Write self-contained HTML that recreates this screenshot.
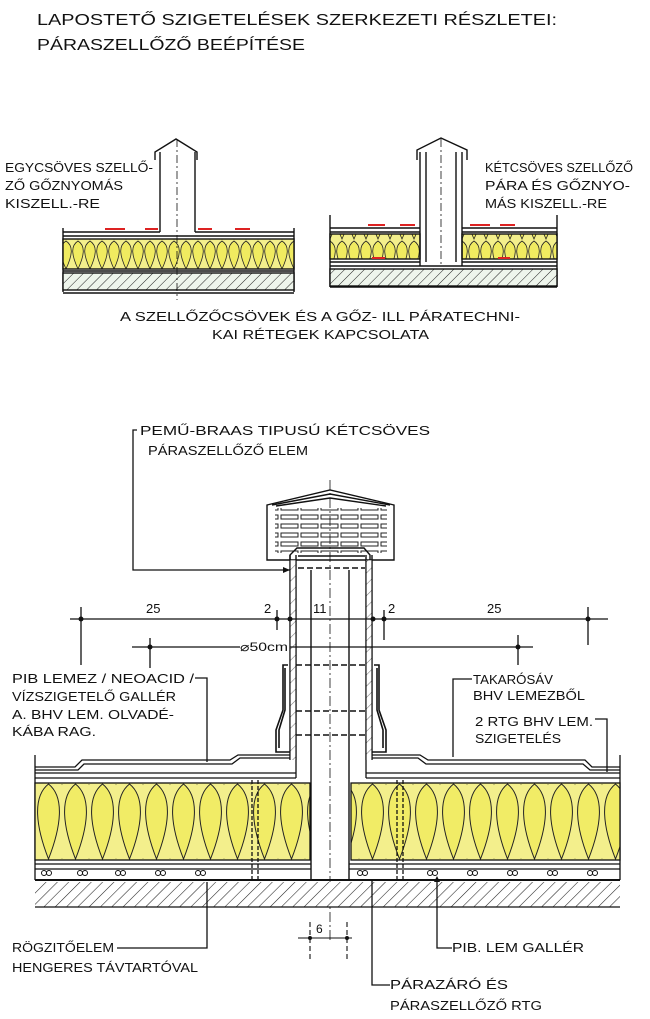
<!DOCTYPE html>
<html><head><meta charset="utf-8">
<style>
html,body{margin:0;padding:0;background:#fff;}
svg{display:block;}
text{font-family:"Liberation Sans","DejaVu Sans",sans-serif;fill:#111;}
</style></head>
<body>
<svg width="650" height="1019" viewBox="0 0 650 1019" xmlns="http://www.w3.org/2000/svg" font-size="13">
<defs>
<pattern id="ins" x="35" y="783" width="27" height="77" patternUnits="userSpaceOnUse">
<rect width="27" height="77" fill="#f3ef8c"/>
<path d="M13.5 1 C30 14 26 44 13.5 76 C1 44 -3 14 13.5 1 Z" fill="#f1ec66" stroke="#222" stroke-width="1"/>
<path d="M0 76 C-10 60 -10 30 0 1 M27 76 C37 60 37 30 27 1" fill="none" stroke="#222" stroke-width="0.8"/>
</pattern>
<pattern id="ins2" x="0" y="0" width="12" height="30" patternUnits="userSpaceOnUse">
<rect width="12" height="30" fill="#f3ef8c"/>
<path d="M6 1 C14 6 12 16 6 29 C0 16 -2 6 6 1 Z" fill="#f0eb60" stroke="#222" stroke-width="0.8"/>
</pattern>
<pattern id="hat" width="8" height="8" patternUnits="userSpaceOnUse" patternTransform="rotate(45)">
<rect width="8" height="8" fill="#fff"/>
<line x1="0" y1="0" x2="0" y2="8" stroke="#222" stroke-width="1.1"/>
</pattern>
<pattern id="hats" width="7" height="7" patternUnits="userSpaceOnUse" patternTransform="rotate(45)">
<rect width="7" height="7" fill="#eef5ec"/>
<line x1="0" y1="0" x2="0" y2="7" stroke="#222" stroke-width="1"/>
</pattern>
<pattern id="grill" width="20" height="9" patternUnits="userSpaceOnUse">
<rect x="1" y="2" width="17" height="4" fill="none" stroke="#222" stroke-width="1"/>
</pattern>
</defs>

<text x="37" y="25" font-size="16" textLength="520" lengthAdjust="spacingAndGlyphs">LAPOSTETŐ  SZIGETELÉSEK  SZERKEZETI  RÉSZLETEI:</text>
<text x="37" y="50" font-size="16" textLength="268" lengthAdjust="spacingAndGlyphs">PÁRASZELLŐZŐ  BEÉPÍTÉSE</text>

<g stroke="#111" fill="none" stroke-width="1.4">
<line x1="63" y1="228" x2="63" y2="292"/>
<line x1="294" y1="228" x2="294" y2="292"/>
<line x1="63" y1="232" x2="160" y2="232"/>
<line x1="195" y1="232" x2="294" y2="232"/>
<line x1="63" y1="236" x2="294" y2="236"/>
<rect x="63" y="239" width="231" height="30" fill="url(#ins2)"/>
<line x1="63" y1="271" x2="294" y2="271"/>
<rect x="63" y="273" width="231" height="17" fill="url(#hats)"/>
<line x1="63" y1="293" x2="294" y2="293"/>
<line x1="160" y1="152" x2="160" y2="232"/>
<line x1="195" y1="152" x2="195" y2="232"/>
<path d="M155 160 L155 152 L176 139 L197 152 L197 160"/>
<line x1="177" y1="139" x2="177" y2="300" stroke-dasharray="8,3,2,3" stroke-width="0.8"/>
</g>
<g stroke="#d22" stroke-width="2"><line x1="105" y1="229" x2="125" y2="229"/><line x1="145" y1="229" x2="158" y2="229"/><line x1="198" y1="229" x2="212" y2="229"/><line x1="235" y1="229" x2="250" y2="229"/></g>
<text x="5" y="172" font-size="12.5" textLength="148" lengthAdjust="spacingAndGlyphs">EGYCSÖVES SZELLŐ-</text>
<text x="5" y="190" font-size="12.5" textLength="118" lengthAdjust="spacingAndGlyphs">ZŐ GŐZNYOMÁS</text>
<text x="5" y="208" font-size="12.5" textLength="95" lengthAdjust="spacingAndGlyphs">KISZELL.-RE</text>

<g stroke="#111" fill="none" stroke-width="1.4">
<line x1="330" y1="215" x2="330" y2="287"/>
<line x1="557" y1="215" x2="557" y2="287"/>
<line x1="330" y1="228" x2="420" y2="228"/>
<line x1="462" y1="228" x2="557" y2="228"/>
<line x1="330" y1="232" x2="420" y2="232"/>
<line x1="462" y1="232" x2="557" y2="232"/>
<rect x="330" y="234" width="90" height="25" fill="url(#ins2)"/>
<rect x="462" y="234" width="95" height="25" fill="url(#ins2)"/>
<line x1="330" y1="262" x2="420" y2="262"/>
<line x1="462" y1="262" x2="557" y2="262"/>
<line x1="330" y1="266" x2="557" y2="266"/>
<rect x="330" y="269" width="227" height="17" fill="url(#hats)"/>
<line x1="330" y1="287" x2="557" y2="287"/>
<line x1="420" y1="152" x2="420" y2="266"/>
<line x1="426" y1="152" x2="426" y2="262"/>
<line x1="456" y1="152" x2="456" y2="262"/>
<line x1="462" y1="152" x2="462" y2="266"/>
<path d="M417 160 L417 150 L441 138 L467 150 L467 160"/>
<line x1="441" y1="139" x2="441" y2="266" stroke-dasharray="8,3,2,3" stroke-width="0.8"/>
</g>
<g stroke="#d22" stroke-width="2"><line x1="368" y1="225" x2="385" y2="225"/><line x1="400" y1="225" x2="415" y2="225"/><line x1="470" y1="225" x2="490" y2="225"/><line x1="500" y1="225" x2="515" y2="225"/><line x1="372" y1="258" x2="385" y2="258"/><line x1="498" y1="258" x2="510" y2="258"/></g>
<text x="485" y="172" font-size="12.5" textLength="148" lengthAdjust="spacingAndGlyphs">KÉTCSÖVES SZELLŐZŐ</text>
<text x="485" y="190" font-size="12.5" textLength="145" lengthAdjust="spacingAndGlyphs">PÁRA ÉS GŐZNYO-</text>
<text x="485" y="208" font-size="12.5" textLength="122" lengthAdjust="spacingAndGlyphs">MÁS KISZELL.-RE</text>

<text x="120" y="321" font-size="13" textLength="400" lengthAdjust="spacingAndGlyphs">A  SZELLŐZŐCSÖVEK  ÉS  A  GŐZ-  ILL  PÁRATECHNI-</text>
<text x="212" y="339" font-size="13" textLength="217" lengthAdjust="spacingAndGlyphs">KAI  RÉTEGEK  KAPCSOLATA</text>

<text x="140" y="435" font-size="13" textLength="290" lengthAdjust="spacingAndGlyphs">PEMŰ-BRAAS  TIPUSÚ  KÉTCSÖVES</text>
<text x="148" y="455" font-size="13" textLength="160" lengthAdjust="spacingAndGlyphs">PÁRASZELLŐZŐ  ELEM</text>
<polyline points="137,430 133,430 133,570 290,570" stroke="#111" fill="none" stroke-width="1.3"/>
<path d="M290 570 L283 567 L283 573 Z" fill="#111"/>

<g stroke="#111" fill="none" stroke-width="1.4">
<path d="M267 560 L267 505 L330 490 L394 505 L394 560 Z"/>
<path d="M272 505 L330 494 L390 505"/>
<path d="M276 506 L330 498 L386 506"/>
<rect x="275" y="508" width="112" height="45" fill="url(#grill)" stroke="none"/>
<path d="M290 560 L290 555 L297 548 L364 548 L370 555 L370 560"/>
<line x1="298" y1="556" x2="365" y2="556"/>
<line x1="298" y1="568" x2="365" y2="568" stroke-dasharray="6,3"/>
<line x1="290" y1="555" x2="290" y2="760"/>
<line x1="296" y1="555" x2="296" y2="760"/>
<line x1="366" y1="555" x2="366" y2="760"/>
<line x1="372" y1="555" x2="372" y2="760"/>
<line x1="311" y1="570" x2="311" y2="880"/>
<line x1="349" y1="570" x2="349" y2="880"/>
<line x1="296" y1="665" x2="366" y2="665" stroke-dasharray="6,3"/>
<line x1="296" y1="711" x2="366" y2="711" stroke-dasharray="6,3"/>
<line x1="296" y1="735" x2="366" y2="735" stroke-dasharray="6,3"/>
<line x1="330" y1="480" x2="330" y2="940" stroke-dasharray="10,3,2,3" stroke-width="0.8"/>
</g>
<rect x="290.5" y="560" width="5" height="200" fill="url(#hat)" opacity="0.6"/>
<rect x="366.5" y="560" width="5" height="200" fill="url(#hat)" opacity="0.6"/>
<g stroke="#111" fill="none" stroke-width="1.6">
<path d="M288 665 L283 665 L283 710 L276 730 L276 752 L290 752"/>
<path d="M285 668 L285 710 L279 730 L279 748"/>
<path d="M374 665 L379 665 L379 710 L386 730 L386 752 L372 752"/>
<path d="M377 668 L377 710 L383 730 L383 748"/>
</g>

<g stroke="#111" fill="none" stroke-width="1.3">
<line x1="70" y1="619" x2="608" y2="619"/>
<line x1="81" y1="607" x2="81" y2="665"/>
<line x1="277" y1="610" x2="277" y2="630"/>
<line x1="384" y1="610" x2="384" y2="640"/>
<line x1="588" y1="607" x2="588" y2="645"/>
<line x1="132" y1="647" x2="240" y2="647"/>
<line x1="290" y1="647" x2="533" y2="647"/>
<line x1="150" y1="638" x2="150" y2="668"/>
<line x1="518" y1="635" x2="518" y2="665"/>
</g>
<g fill="#111"><circle cx="81" cy="619" r="2.5"/><circle cx="277" cy="619" r="2.5"/><circle cx="290" cy="619" r="2.5"/><circle cx="373" cy="619" r="2.5"/><circle cx="384" cy="619" r="2.5"/><circle cx="588" cy="619" r="2.5"/><circle cx="150" cy="647" r="2.5"/><circle cx="518" cy="647" r="2.5"/></g>
<text x="146" y="613" font-size="13">25</text>
<text x="264" y="613" font-size="13">2</text>
<text x="313" y="613" font-size="13">11</text>
<text x="388" y="613" font-size="13">2</text>
<text x="487" y="613" font-size="13">25</text>
<text x="240" y="651" font-size="12" textLength="48" lengthAdjust="spacingAndGlyphs">⌀50cm</text>

<g stroke="#111" fill="none" stroke-width="1.3">
<line x1="35" y1="755" x2="35" y2="880"/>
<line x1="620" y1="755" x2="620" y2="880"/>
<path d="M35 767 L75 767 L82 760 L230 760 L238 755 L290 755"/>
<path d="M35 770 L78 770 L84 764 L232 764 L240 758 L290 758"/>
<path d="M372 755 L420 755 L428 760 L585 760 L592 767 L620 767"/>
<path d="M372 758 L418 758 L426 764 L583 764 L590 770 L620 770"/>
<line x1="35" y1="773" x2="296" y2="773"/>
<line x1="366" y1="773" x2="620" y2="773"/>
<line x1="35" y1="778" x2="296" y2="778"/>
<line x1="366" y1="778" x2="620" y2="778"/>
<line x1="296" y1="760" x2="296" y2="778"/>
<line x1="366" y1="760" x2="366" y2="778"/>
<rect x="35" y="783" width="275" height="77" fill="url(#ins)"/>
<rect x="351" y="783" width="269" height="77" fill="url(#ins)"/>
<line x1="35" y1="864" x2="311" y2="864"/>
<line x1="349" y1="864" x2="620" y2="864"/>
<line x1="35" y1="869" x2="311" y2="869"/>
<line x1="349" y1="869" x2="620" y2="869"/>
<line x1="35" y1="880" x2="620" y2="880" stroke-width="2"/>
<rect x="35" y="882" width="585" height="25" fill="url(#hat)" stroke="none"/>
<line x1="35" y1="907" x2="620" y2="907"/>
<line x1="252" y1="780" x2="252" y2="880" stroke-dasharray="4,2"/>
<line x1="258" y1="780" x2="258" y2="880" stroke-dasharray="4,2"/>
<line x1="397" y1="780" x2="397" y2="880" stroke-dasharray="4,2"/>
<line x1="403" y1="780" x2="403" y2="880" stroke-dasharray="4,2"/>
</g>
<g stroke="#111" fill="none" stroke-width="1">
<circle cx="44" cy="873" r="2.5"/><circle cx="49" cy="873" r="2.5"/>
<circle cx="80" cy="873" r="2.5"/><circle cx="85" cy="873" r="2.5"/>
<circle cx="118" cy="873" r="2.5"/><circle cx="123" cy="873" r="2.5"/>
<circle cx="158" cy="873" r="2.5"/><circle cx="163" cy="873" r="2.5"/>
<circle cx="198" cy="873" r="2.5"/><circle cx="203" cy="873" r="2.5"/>
<circle cx="360" cy="873" r="2.5"/><circle cx="365" cy="873" r="2.5"/>
<circle cx="430" cy="873" r="2.5"/><circle cx="435" cy="873" r="2.5"/>
<circle cx="470" cy="873" r="2.5"/><circle cx="475" cy="873" r="2.5"/>
<circle cx="510" cy="873" r="2.5"/><circle cx="515" cy="873" r="2.5"/>
<circle cx="550" cy="873" r="2.5"/><circle cx="555" cy="873" r="2.5"/>
<circle cx="590" cy="873" r="2.5"/><circle cx="595" cy="873" r="2.5"/>
</g>

<text x="12" y="683" font-size="13" textLength="182" lengthAdjust="spacingAndGlyphs">PIB  LEMEZ  / NEOACID /</text>
<text x="12" y="701" font-size="13" textLength="164" lengthAdjust="spacingAndGlyphs">VÍZSZIGETELŐ  GALLÉR</text>
<text x="12" y="719" font-size="13" textLength="162" lengthAdjust="spacingAndGlyphs">A. BHV  LEM.  OLVADÉ-</text>
<text x="12" y="736" font-size="13" textLength="84" lengthAdjust="spacingAndGlyphs">KÁBA  RAG.</text>
<polyline points="195,678 207,678 207,762" stroke="#111" fill="none" stroke-width="1.3"/>

<text x="473" y="684" font-size="13" textLength="80" lengthAdjust="spacingAndGlyphs">TAKARÓSÁV</text>
<text x="473" y="700" font-size="13" textLength="112" lengthAdjust="spacingAndGlyphs">BHV  LEMEZBŐL</text>
<polyline points="472,679 453,679 453,757" stroke="#111" fill="none" stroke-width="1.3"/>
<text x="475" y="726" font-size="13" textLength="118" lengthAdjust="spacingAndGlyphs">2  RTG  BHV  LEM.</text>
<text x="475" y="743" font-size="13" textLength="86" lengthAdjust="spacingAndGlyphs">SZIGETELÉS</text>
<polyline points="595,719 607,719 607,772" stroke="#111" fill="none" stroke-width="1.3"/>

<text x="12" y="952" font-size="13" textLength="102" lengthAdjust="spacingAndGlyphs">RÖGZITŐELEM</text>
<text x="12" y="972" font-size="13" textLength="186" lengthAdjust="spacingAndGlyphs">HENGERES  TÁVTARTÓVAL</text>
<polyline points="117,948 207,948 207,882" stroke="#111" fill="none" stroke-width="1.3"/>

<g stroke="#111" fill="none" stroke-width="1.1">
<line x1="298" y1="938" x2="352" y2="938"/>
<line x1="310" y1="922" x2="310" y2="960" stroke-dasharray="5,3"/>
<line x1="347" y1="922" x2="347" y2="960" stroke-dasharray="5,3"/>
</g>
<circle cx="310" cy="938" r="2" fill="#111"/><circle cx="347" cy="938" r="2" fill="#111"/>
<text x="316" y="933" font-size="12">6</text>

<polyline points="452,948 437,948 437,878" stroke="#111" fill="none" stroke-width="1.3"/>
<path d="M437 876 L434 882 L440 882 Z" fill="#111"/>
<text x="452" y="952" font-size="13" textLength="132" lengthAdjust="spacingAndGlyphs">PIB.  LEM  GALLÉR</text>

<polyline points="390,985 372,985 372,880" stroke="#111" fill="none" stroke-width="1.3"/>
<text x="390" y="989" font-size="13" textLength="118" lengthAdjust="spacingAndGlyphs">PÁRAZÁRÓ  ÉS</text>
<text x="390" y="1010" font-size="13" textLength="152" lengthAdjust="spacingAndGlyphs">PÁRASZELLŐZŐ  RTG</text>
</svg>
</body></html>
